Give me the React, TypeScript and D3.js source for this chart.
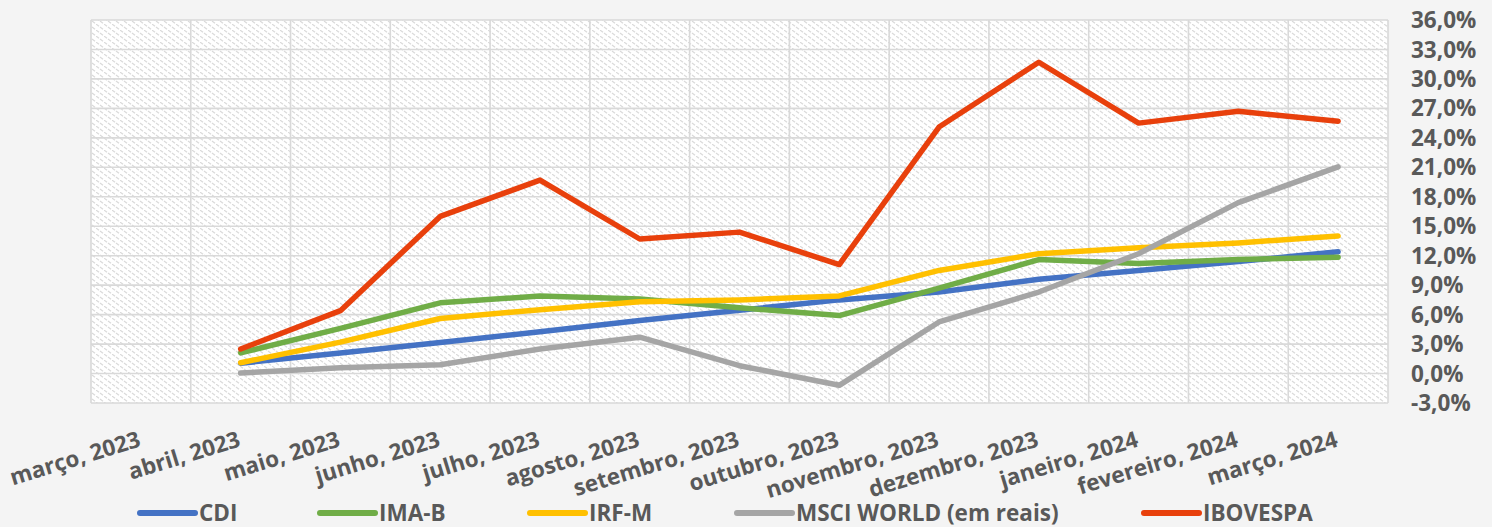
import React from "react";
import * as d3 from "d3";

const months = [
  "março, 2023", "abril, 2023", "maio, 2023", "junho, 2023", "julho, 2023",
  "agosto, 2023", "setembro, 2023", "outubro, 2023", "novembro, 2023",
  "dezembro, 2023", "janeiro, 2024", "fevereiro, 2024", "março, 2024",
];
const yTicks = [-3, 0, 3, 6, 9, 12, 15, 18, 21, 24, 27, 30, 33, 36];

// values start at abril 2023 (março 2023 has none)
const cdi = [null, 1.05, 2.1, 3.15, 4.25, 5.4, 6.45, 7.5, 8.3, 9.6, 10.5, 11.4, 12.4];
const imab = [null, 2.1, 4.6, 7.2, 7.9, 7.6, 6.7, 5.9, 8.7, 11.6, 11.2, 11.6, 11.85];
const irfm = [null, 1.1, 3.2, 5.6, 6.5, 7.3, 7.5, 7.9, 10.5, 12.2, 12.8, 13.3, 14.0];
const msci = [null, 0.05, 0.6, 0.9, 2.5, 3.7, 0.8, -1.2, 5.25, 8.3, 12.2, 17.4, 21.05];
const ibov = [null, 2.5, 6.4, 16.0, 19.7, 13.7, 14.4, 11.1, 25.1, 31.7, 25.5, 26.7, 25.7];

const seriesNames = ["CDI", "IMA-B", "IRF-M", "MSCI WORLD (em reais)", "IBOVESPA"];
const seriesValues = [cdi, imab, irfm, msci, ibov];
const colors = ["#4472c4", "#70ad47", "#ffc000", "#a5a5a5", "#e8400c"];
const legendX = [140, 320, 530, 737, 1144];

const W = 1492;
const H = 527;
const left = 91, right = 1388, top = 20, bottom = 403;
const font = "'Open Sans', sans-serif";
const textColor = "#595959";

export default function App() {
  const x = d3.scaleBand<string>().domain(months).range([left, right]);
  const y = d3.scaleLinear().domain([-3, 36]).range([bottom, top]);
  const cx = (m: string) => (x(m) as number) + x.bandwidth() / 2;

  const line = d3
    .line<number | null>()
    .defined((d) => d !== null)
    .x((_, i) => cx(months[i]))
    .y((d) => y(d as number));

  const vLines = months.map((m) => x(m) as number).concat([right]);

  return (
    <svg
      width={W}
      height={H}
      style={{ position: "absolute", left: 0, top: 0, display: "block" }}
      fontFamily={font}
    >
      <defs>
        <pattern id="hatch" width="8" height="6" patternUnits="userSpaceOnUse">
          <rect width="8" height="6" fill="#ffffff" />
          <path d="M0,0 L3,2.2 M4,3 L7,5.2" stroke="#d9d9d9" strokeWidth="1.1" />
        </pattern>
      </defs>
      <rect width={W} height={H} fill="#f4f4f4" />
      <rect x={left} y={top} width={right - left} height={bottom - top} fill="url(#hatch)" />
      {yTicks.map((t) => (
        <line key={"h" + t} x1={left} x2={right} y1={y(t)} y2={y(t)} stroke="#d9d9d9" strokeWidth={1.6} />
      ))}
      {vLines.map((vx, i) => (
        <line key={"v" + i} x1={vx} x2={vx} y1={top} y2={bottom} stroke="#d9d9d9" strokeWidth={1.6} />
      ))}
      {seriesValues.map((vals, i) => (
        <path
          key={seriesNames[i]}
          d={line(vals) || ""}
          fill="none"
          stroke={colors[i]}
          strokeWidth={5.5}
          strokeLinejoin="round"
          strokeLinecap="round"
        />
      ))}
      {yTicks.map((t) => (
        <text
          key={"yl" + t}
          x={1411}
          y={y(t)}
          dy="0.36em"
          fontSize={22.5}
          fontWeight="bold"
          fill={textColor}
        >
          {d3.format(".1f")(t).replace(".", ",").replace("−", "-") + "%"}
        </text>
      ))}
      {months.map((m) => (
        <text
          key={"xl" + m}
          transform={`translate(${cx(m) + 1},${446}) rotate(-17)`}
          textAnchor="end"
          fontSize={22.5}
          fontWeight="bold"
          fill={textColor}
        >
          {m}
        </text>
      ))}
      {seriesNames.map((n, i) => (
        <g key={"lg" + n} transform={`translate(${legendX[i]},${513})`}>
          <line x1={0} x2={55} y1={0} y2={0} stroke={colors[i]} strokeWidth={6} strokeLinecap="round" />
          <text x={59} y={0} dy="0.36em" fontSize={22.5} fontWeight="bold" fill={textColor}>
            {n}
          </text>
        </g>
      ))}
    </svg>
  );
}
